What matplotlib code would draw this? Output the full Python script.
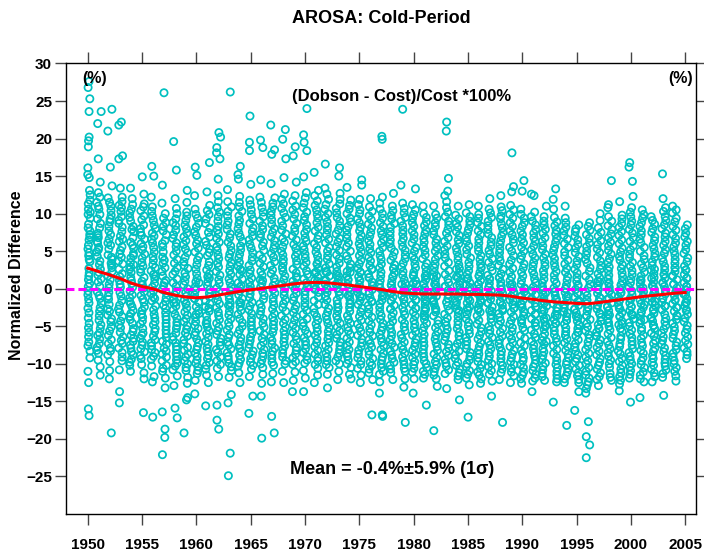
import numpy as np
import matplotlib
matplotlib.use("Agg")
import matplotlib.pyplot as plt

plt.rcParams['font.family'] = ['Liberation Sans', 'DejaVu Sans']
plt.rcParams['font.weight'] = 'bold'

# cold-period seasons, labelled by the January year
years = list(range(1950, 2006))

# normalized differences (%) read per season, one sub-list per winter
# (outer part of each stripe, with its outliers)
s1950s = [
    [27.6, 26.8, 25.3, 23.6, 20.2, 19.7, 18.9, 16.1, 15.2, 14.8, 12.5, 11.3, 10.2, 9.4, 8.1, 7.2, 6.5, 5.3, 4.4, 3.6, 2.1, 1.2, 0.3, -0.8, -1.9, -3.2, -4.6, -5.8, -7.1, -8.3, -9.2, -11.0, -12.5, -16.0, -16.9],
    [23.6, 22.0, 17.3, 14.2, 12.8, 11.5, 10.6, 9.3, 8.7, 7.4, 6.8, 5.5, 4.9, 3.7, 2.6, 1.8, 0.9, -0.4, -1.3, -2.5, -3.6, -4.8, -5.9, -6.7, -7.8, -8.6, -9.5, -10.4, -11.5, 6.1],
    [23.9, 21.0, 16.2, 13.7, 12.1, 11.0, 9.8, 8.9, 7.7, 6.6, 5.8, 4.5, 3.9, 2.8, 1.7, 0.6, -0.5, -1.4, -2.7, -3.5, -4.4, -5.6, -6.8, -7.9, -8.8, -9.7, -10.9, -12.0, -19.2, 3.1],
    [22.2, 21.8, 17.7, 17.3, 13.4, 12.2, 11.1, 10.3, 9.1, 8.2, 7.0, 6.3, 5.1, 4.2, 3.3, 2.0, 1.1, 0.2, -1.0, -2.2, -3.1, -4.3, -5.2, -6.4, -7.3, -8.5, -9.6, -10.8, -13.7, -15.2],
    [13.4, 12.0, 11.2, 10.1, 9.5, 8.3, 7.6, 6.2, 5.4, 4.7, 3.5, 2.6, 1.5, 0.7, -0.3, -1.2, -2.4, -3.3, -4.1, -5.3, -6.2, -7.0, -7.9, -8.8, -9.4, -10.2, -11.0, 2.9, -1.7, 4.1],
    [14.9, 12.6, 11.3, 10.4, 9.2, 8.0, 7.1, 6.0, 5.2, 4.1, 3.0, 2.2, 1.0, 0.1, -0.9, -1.8, -2.9, -3.8, -4.7, -5.9, -6.6, -7.5, -8.4, -9.3, -10.1, -11.2, -12.0, -16.5, 0.6, -3.4],
    [16.3, 15.0, 12.2, 10.9, 9.7, 8.5, 7.4, 6.6, 5.5, 4.3, 3.2, 2.4, 1.3, 0.2, -0.7, -1.6, -2.8, -3.9, -4.8, -5.7, -6.8, -7.6, -8.5, -9.4, -10.3, -11.7, -12.4, -17.1, -1.1, 1.9],
    [26.1, 13.8, 11.4, 10.0, 8.8, 7.7, 6.4, 5.6, 4.2, 3.4, 2.3, 1.1, 0.4, -0.6, -1.7, -2.6, -3.7, -4.6, -5.5, -6.5, -7.4, -8.3, -9.1, -10.2, -11.0, -11.9, -13.2, -16.4, -18.7, -19.8, -22.1],
    [19.6, 15.8, 12.0, 10.7, 9.3, 8.4, 7.2, 6.1, 5.0, 3.9, 2.8, 1.9, 0.8, -0.3, -1.4, -2.3, -3.4, -4.5, -5.3, -6.4, -7.2, -8.1, -9.0, -9.9, -10.8, -11.6, -12.9, -15.9, -17.2, -1.9],
    [13.1, 11.5, 10.2, 9.1, 8.0, 6.9, 5.9, 4.8, 3.6, 2.7, 1.6, 0.5, -0.5, -1.5, -2.6, -3.5, -4.4, -5.4, -6.3, -7.3, -8.2, -9.1, -10.0, -10.9, -11.8, -12.6, -14.5, -14.8, -19.2, -2.0],
]
s1960s = [
    [16.2, 15.1, 12.4, 10.6, 9.4, 8.2, 7.1, 6.0, 4.9, 3.8, 2.6, 1.4, 0.3, -0.8, -1.8, -2.9, -3.8, -4.9, -5.8, -6.7, -7.7, -8.6, -9.5, -10.4, -11.3, -12.2, -14.0, -1.3, -3.3, 0.9],
    [16.8, 12.9, 11.1, 9.9, 8.7, 7.5, 6.3, 5.3, 4.4, 3.1, 2.0, 0.9, -0.1, -1.1, -2.0, -3.0, -4.2, -5.1, -6.0, -7.0, -7.9, -8.9, -9.8, -10.7, -11.5, -12.5, -15.6, -2.4, 1.6, -4.7],
    [20.8, 20.2, 18.8, 18.1, 17.3, 14.6, 12.4, 10.8, 9.6, 8.3, 7.3, 6.2, 5.1, 4.0, 2.9, 1.8, 0.7, -0.4, -1.5, -2.5, -3.6, -4.6, -5.6, -6.6, -7.6, -8.5, -9.6, -10.6, -11.7, -15.5, -17.5, -18.7],
    [26.2, 13.2, 11.6, 10.3, 9.0, 7.9, 6.8, 5.7, 4.6, 3.5, 2.4, 1.3, 0.2, -0.9, -1.9, -3.0, -4.0, -5.0, -6.1, -7.1, -8.0, -9.0, -9.9, -10.9, -11.8, -14.1, -15.2, -21.9, -24.9, -2.2],
    [16.3, 15.2, 14.6, 12.3, 10.9, 9.7, 8.6, 7.4, 6.3, 5.2, 4.1, 3.0, 1.9, 0.8, -0.3, -1.3, -2.4, -3.4, -4.5, -5.5, -6.5, -7.5, -8.4, -9.4, -10.3, -11.2, -12.5, 0.4, -1.8, 2.6],
    [23.0, 19.5, 18.4, 13.9, 11.8, 10.5, 9.3, 8.1, 7.0, 5.9, 4.8, 3.7, 2.5, 1.4, 0.3, -0.7, -1.8, -2.8, -3.9, -4.9, -5.9, -6.9, -7.9, -8.8, -9.8, -10.7, -11.7, -14.3, -16.6, -0.2],
    [19.8, 18.8, 14.5, 12.2, 10.8, 9.6, 8.4, 7.3, 6.2, 5.1, 4.0, 2.9, 1.8, 0.7, -0.4, -1.4, -2.5, -3.5, -4.6, -5.6, -6.6, -7.6, -8.6, -9.5, -10.5, -11.4, -12.6, -14.3, -19.9, 1.1],
    [21.8, 18.5, 17.9, 14.0, 12.1, 10.9, 9.8, 8.6, 7.5, 6.4, 5.3, 4.2, 3.1, 2.0, 0.9, -0.1, -1.2, -2.2, -3.3, -4.3, -5.3, -6.4, -7.4, -8.3, -9.3, -10.2, -11.3, -12.4, -17.0, -19.2],
    [21.2, 19.9, 17.3, 14.8, 12.6, 11.3, 10.1, 9.0, 7.8, 6.7, 5.6, 4.5, 3.4, 2.3, 1.2, 0.1, -0.9, -2.0, -3.0, -4.1, -5.1, -6.1, -7.1, -8.1, -9.1, -10.0, -11.0, -12.5, 0.6, 2.8],
    [18.9, 17.7, 14.2, 12.4, 11.0, 9.9, 8.7, 7.6, 6.5, 5.4, 4.3, 3.2, 2.1, 1.0, -0.1, -1.1, -2.2, -3.2, -4.2, -5.3, -6.3, -7.3, -8.2, -9.2, -10.1, -11.1, -12.2, -13.7, 0.5, 1.6],
]
s1970s = [
    [24.0, 20.5, 19.5, 18.4, 14.9, 12.8, 11.4, 10.2, 9.1, 7.9, 6.8, 5.7, 4.6, 3.5, 2.4, 1.3, 0.2, -0.8, -1.9, -2.9, -4.0, -5.0, -6.0, -7.0, -8.0, -9.0, -9.9, -10.9, -11.9, -13.7],
    [15.5, 13.1, 11.7, 10.5, 9.4, 8.2, 7.1, 6.0, 4.9, 3.8, 2.7, 1.6, 0.5, -0.5, -1.6, -2.6, -3.7, -4.7, -5.7, -6.7, -7.7, -8.7, -9.6, -10.6, -11.5, -12.5, 1.1, 2.2, -0.1, 3.3],
    [16.6, 13.4, 11.9, 10.6, 9.5, 8.3, 7.2, 6.1, 5.0, 3.9, 2.8, 1.7, 0.6, -0.5, -1.5, -2.6, -3.6, -4.6, -5.7, -6.7, -7.6, -8.6, -9.6, -10.5, -11.4, -13.2, 0.1, 1.2, -1.0, 2.3],
    [16.1, 15.0, 12.7, 11.3, 10.1, 9.0, 7.8, 6.7, 5.6, 4.5, 3.4, 2.3, 1.2, 0.1, -0.9, -2.0, -3.0, -4.1, -5.1, -6.1, -7.1, -8.1, -9.1, -10.0, -11.0, -12.1, 0.7, -0.4, 1.8, -2.5],
    [13.5, 11.8, 10.6, 9.4, 8.3, 7.2, 6.1, 5.0, 3.9, 2.8, 1.7, 0.6, -0.4, -1.5, -2.5, -3.6, -4.6, -5.6, -6.6, -7.6, -8.6, -9.5, -10.5, -11.4, -12.0, 0.1, 1.2, -1.0, 2.3, -2.0],
    [14.5, 13.8, 11.9, 10.5, 9.3, 8.2, 7.1, 6.0, 4.9, 3.8, 2.7, 1.6, 0.5, -0.5, -1.6, -2.6, -3.7, -4.7, -5.7, -6.7, -7.7, -8.7, -9.6, -10.6, -11.5, -12.5, 0.0, 1.1, -1.1, 2.2],
    [12.0, 10.9, 9.7, 8.6, 7.5, 6.4, 5.3, 4.2, 3.1, 2.0, 0.9, -0.1, -1.2, -2.2, -3.3, -4.3, -5.3, -6.3, -7.3, -8.3, -9.3, -10.2, -11.2, -12.1, -16.8, 0.4, -0.6, 1.5, -1.7, 2.6],
    [20.3, 19.9, 12.2, 10.6, 9.4, 8.3, 7.2, 6.1, 5.0, 3.9, 2.8, 1.7, 0.6, -0.4, -1.5, -2.5, -3.6, -4.6, -5.6, -6.6, -7.6, -8.6, -9.5, -10.5, -11.4, -12.4, -13.9, -16.8, -17.0, -0.9],
    [12.7, 11.0, 9.8, 8.7, 7.6, 6.5, 5.4, 4.3, 3.2, 2.1, 1.0, -0.1, -1.1, -2.2, -3.2, -4.3, -5.3, -6.3, -7.3, -8.3, -9.3, -10.2, -11.2, -12.1, -0.6, 0.5, -1.6, 1.6, -2.7, 2.7],
    [23.9, 13.8, 11.4, 10.1, 9.0, 7.8, 6.7, 5.6, 4.5, 3.4, 2.3, 1.2, 0.1, -0.9, -2.0, -3.0, -4.1, -5.1, -6.1, -7.1, -8.1, -9.1, -10.1, -11.0, -12.0, -13.1, -17.8, -0.5, 0.6, -1.4],
]
s1980s = [
    [13.3, 11.2, 9.9, 8.8, 7.7, 6.6, 5.5, 4.4, 3.3, 2.2, 1.1, 0.0, -1.0, -2.1, -3.1, -4.2, -5.2, -6.2, -7.2, -8.2, -9.2, -10.1, -11.1, -12.0, -13.9, -0.4, -1.5, 0.7, -2.6, 1.8],
    [11.0, 10.0, 8.9, 7.8, 6.7, 5.6, 4.5, 3.4, 2.3, 1.2, 0.1, -0.9, -2.0, -3.0, -4.1, -5.1, -6.1, -7.1, -8.1, -9.1, -10.0, -11.0, -11.9, -15.5, -0.5, -1.6, 0.6, -2.7, 1.7, -3.7],
    [11.0, 9.9, 8.8, 7.7, 6.6, 5.5, 4.4, 3.3, 2.2, 1.1, 0.0, -1.0, -2.1, -3.1, -4.2, -5.2, -6.2, -7.2, -8.2, -9.2, -10.1, -11.1, -12.0, -13.0, -18.9, -0.6, 0.5, -1.7, 1.6, -2.8],
    [22.2, 21.0, 14.7, 13.0, 12.4, 10.8, 9.6, 8.5, 7.4, 6.3, 5.2, 4.1, 3.0, 1.9, 0.8, -0.2, -1.3, -2.3, -3.4, -4.4, -5.4, -6.4, -7.4, -8.4, -9.4, -10.3, -11.3, -13.3, -0.8, 0.3],
    [11.0, 9.8, 8.7, 7.6, 6.5, 5.4, 4.3, 3.2, 2.1, 1.0, -0.1, -1.1, -2.2, -3.2, -4.3, -5.3, -6.3, -7.3, -8.3, -9.3, -10.2, -11.2, -12.1, -14.8, -0.7, 0.4, -1.8, 1.5, -2.9, 2.6],
    [11.2, 10.1, 9.0, 7.9, 6.8, 5.7, 4.6, 3.5, 2.4, 1.3, 0.2, -0.8, -1.9, -2.9, -4.0, -5.0, -6.0, -7.0, -8.0, -9.0, -10.0, -10.9, -11.9, -12.8, -17.1, -0.7, 0.5, -1.6, 1.4, -2.6],
    [11.0, 9.9, 8.8, 7.7, 6.6, 5.5, 4.4, 3.3, 2.2, 1.1, 0.0, -1.0, -2.1, -3.1, -4.2, -5.2, -6.2, -7.2, -8.2, -9.2, -10.1, -11.1, -12.0, -12.6, -0.6, 0.6, -1.7, 1.7, -2.8, 2.8],
    [12.0, 10.6, 9.5, 8.4, 7.3, 6.2, 5.1, 4.0, 2.9, 1.8, 0.7, -0.3, -1.4, -2.4, -3.5, -4.5, -5.5, -6.5, -7.5, -8.5, -9.5, -10.4, -11.4, -12.3, -14.3, -0.9, 0.2, -1.9, 1.3, -3.0],
    [12.4, 10.9, 9.7, 8.6, 7.5, 6.4, 5.3, 4.2, 3.1, 2.0, 0.9, -0.1, -1.2, -2.2, -3.3, -4.3, -5.3, -6.3, -7.3, -8.3, -9.3, -10.2, -11.2, -12.1, -17.8, -0.8, 0.4, -1.8, 1.5, -2.9],
    [18.1, 13.6, 12.9, 11.1, 9.9, 8.8, 7.7, 6.6, 5.5, 4.4, 3.3, 2.2, 1.1, 0.0, -1.0, -2.1, -3.1, -4.2, -5.2, -6.2, -7.2, -8.2, -9.2, -10.1, -11.1, -12.5, -0.5, -1.5, 0.6, -2.6],
]
s1990s = [
    [14.4, 13.0, 10.6, 9.4, 8.3, 7.2, 6.1, 5.0, 3.9, 2.8, 1.7, 0.6, -0.4, -1.5, -2.5, -3.6, -4.6, -5.6, -6.6, -7.6, -8.6, -9.6, -10.5, -11.5, -12.6, -1.0, -2.0, 0.1, -3.1, -4.1],
    [12.6, 12.4, 10.2, 9.0, 7.9, 6.8, 5.7, 4.6, 3.5, 2.4, 1.3, 0.2, -0.8, -1.9, -2.9, -4.0, -5.0, -6.0, -7.0, -8.0, -9.0, -10.0, -10.9, -11.9, -13.7, -1.4, -2.4, -0.3, -3.4, -4.5],
    [11.0, 9.6, 8.5, 7.4, 6.3, 5.2, 4.1, 3.0, 1.9, 0.8, -0.2, -1.3, -2.3, -3.4, -4.4, -5.4, -6.4, -7.4, -8.4, -9.4, -10.3, -11.3, -12.2, -1.7, -2.8, -0.6, -3.9, 0.3, -4.9, -6.9],
    [13.3, 11.9, 10.6, 8.9, 7.8, 6.7, 5.6, 4.5, 3.4, 2.3, 1.2, 0.1, -0.9, -2.0, -3.0, -4.1, -5.1, -6.1, -7.1, -8.1, -9.1, -10.1, -11.0, -12.0, -15.1, -1.5, -2.5, -3.6, -0.4, -4.6],
    [11.0, 9.4, 8.2, 7.1, 6.0, 4.9, 3.8, 2.7, 1.6, 0.5, -0.5, -1.6, -2.6, -3.7, -4.7, -5.7, -6.7, -7.7, -8.7, -9.7, -10.6, -11.6, -12.5, -18.2, -1.1, -2.1, -3.2, -4.2, 0.0, -6.2],
    [8.5, 7.6, 6.5, 5.4, 4.3, 3.2, 2.1, 1.0, -0.1, -1.1, -2.2, -3.2, -4.3, -5.3, -6.3, -7.3, -8.3, -9.3, -10.2, -11.2, -12.1, -13.7, -16.2, -1.6, -2.7, -3.7, -0.6, -4.8, -5.8, 0.5],
    [8.8, 7.8, 6.7, 5.6, 4.5, 3.4, 2.3, 1.2, 0.1, -0.9, -2.0, -3.0, -4.1, -5.1, -6.1, -7.1, -8.1, -9.1, -10.0, -11.0, -11.9, -12.8, -13.9, -17.7, -19.7, -20.8, -22.5, -1.5, -2.5, -3.6],
    [10.0, 8.1, 7.0, 5.9, 4.8, 3.7, 2.6, 1.5, 0.4, -0.6, -1.7, -2.7, -3.8, -4.8, -5.8, -6.8, -7.8, -8.8, -9.8, -10.7, -11.7, -12.9, -1.2, -2.2, -3.3, -0.1, -4.3, -5.3, 1.0, -6.3],
    [14.4, 11.2, 10.8, 9.0, 7.9, 6.8, 5.7, 4.6, 3.5, 2.4, 1.3, 0.2, -0.8, -1.9, -2.9, -4.0, -5.0, -6.0, -7.0, -8.0, -9.0, -10.0, -11.3, -12.2, -1.3, -2.4, -0.3, -3.4, -4.5, 0.8],
    [11.6, 9.8, 8.7, 7.6, 6.5, 5.4, 4.3, 3.2, 2.1, 1.0, -0.1, -1.1, -2.2, -3.2, -4.3, -5.3, -6.3, -7.3, -8.3, -9.3, -10.2, -11.2, -12.7, -13.6, -1.6, -2.7, -0.6, -3.7, -4.8, 0.5],
]
s2000s = [
    [16.8, 16.2, 14.3, 12.3, 10.2, 9.0, 7.9, 6.8, 5.7, 4.6, 3.5, 2.4, 1.3, 0.2, -0.8, -1.9, -2.9, -4.0, -5.0, -6.0, -7.0, -8.0, -9.0, -10.0, -10.9, -11.9, -15.1, -1.4, -2.4, -3.5],
    [10.5, 9.4, 8.3, 7.2, 6.1, 5.0, 3.9, 2.8, 1.7, 0.6, -0.4, -1.5, -2.5, -3.6, -4.6, -5.6, -6.6, -7.6, -8.6, -9.6, -10.5, -11.5, -12.4, -14.5, -1.0, -2.0, 0.1, -3.1, 1.2, -4.1],
    [9.6, 8.6, 7.5, 6.4, 5.3, 4.2, 3.1, 2.0, 0.9, -0.1, -1.2, -2.2, -3.3, -4.3, -5.3, -6.3, -7.3, -8.3, -9.3, -10.2, -11.2, -12.4, -0.6, -1.7, 0.4, -2.8, 1.5, -3.8, -4.9, 2.6],
    [15.3, 12.0, 10.3, 9.1, 8.0, 6.9, 5.8, 4.7, 3.6, 2.5, 1.4, 0.3, -0.7, -1.8, -2.8, -3.9, -4.9, -5.9, -6.9, -7.9, -8.9, -9.9, -10.8, -11.8, -14.2, -0.2, -1.3, 0.8, -2.3, 1.9],
    [11.0, 10.1, 8.9, 7.8, 6.7, 5.6, 4.5, 3.4, 2.3, 1.2, 0.1, -0.9, -2.0, -3.0, -4.1, -5.1, -6.1, -7.1, -8.1, -9.1, -10.0, -11.0, -12.3, -0.4, -1.5, 0.6, -2.5, 1.7, -3.6, 2.8],
    [8.5, 7.4, 6.3, 5.2, 4.1, 3.0, 1.9, 0.8, -0.2, -1.3, -2.3, -3.4, -4.4, -5.4, -6.4, -7.4, -8.4, -9.3, 0.3, -0.8, 1.4, -1.9, 2.5, -2.9],
]

# dense core of each stripe
c1950s = [
    [13.1, 11.8, 10.6, 9.9, 8.6, 7.7, 6.9, 5.8, 4.8, 3.9, 2.7, 1.7, 0.7, -0.3, -1.4, -2.6, -3.9, -5.2, -6.4, -7.6],
    [12.2, 11.0, 9.9, 8.1, 7.1, 6.3, 5.2, 4.3, 3.2, 2.2, 1.3, 0.3, -0.9, -1.9, -3.0, -4.2, -5.3, -6.2, -7.3, -8.2],
    [11.5, 10.4, 9.3, 8.3, 7.2, 6.1, 5.3, 4.2, 3.4, 2.3, 1.2, 0.1, -1.0, -2.1, -3.0, -4.0, -5.1, -6.2, -7.3, -8.3],
    [11.6, 10.8, 9.6, 8.7, 7.6, 6.6, 5.6, 4.6, 3.7, 2.6, 1.6, 0.6, -0.5, -1.6, -2.7, -3.7, -4.8, -5.8, -6.9, -7.9, -9.1],
    [10.6, 9.0, 7.9, 6.8, 5.8, 4.4, 3.2, 2.2, 1.1, 0.2, -0.8, -2.0, -2.9, -3.7, -4.6, -5.7, -6.6, -7.5, -8.4, -9.8],
    [10.9, 9.7, 8.5, 7.5, 6.6, 5.6, 4.6, 3.5, 2.6, 1.5, 0.5, -0.4, -1.4, -2.4, -3.4, -4.3, -5.3, -6.2, -7.1, -8.0, -8.9],
    [10.3, 9.1, 8.0, 7.0, 6.1, 4.9, 3.8, 2.8, 1.7, 0.7, -0.3, -1.3, -2.3, -3.4, -4.4, -5.3, -6.3, -7.2, -8.1, -9.0],
    [9.4, 8.3, 7.2, 6.0, 4.9, 3.8, 2.8, 1.7, 0.8, -0.1, -1.2, -2.2, -3.2, -4.1, -5.0, -6.0, -7.0, -7.9, -8.7, -9.6, -10.6],
    [10.0, 8.8, 7.8, 6.7, 5.6, 4.5, 3.4, 2.3, 1.3, 0.3, -0.8, -1.8, -2.8, -3.9, -4.9, -5.9, -6.8, -7.7, -8.6, -9.5, -10.3],
    [9.7, 8.5, 7.4, 6.4, 5.3, 4.2, 3.1, 2.1, 1.0, 0.0, -1.0, -2.0, -3.1, -4.0, -4.9, -5.9, -6.8, -7.8, -8.7, -9.6, -10.5],
]
c1960s = [
    [9.9, 8.7, 7.6, 6.5, 5.4, 4.3, 3.2, 2.0, 0.8, -0.2, -1.3, -2.4, -3.4, -4.4, -5.3, -6.2, -7.2, -8.1, -9.0, -9.9, -10.9],
    [10.4, 9.3, 8.1, 6.9, 5.8, 4.8, 3.6, 2.5, 1.4, 0.4, -0.6, -1.6, -2.6, -3.6, -4.6, -5.6, -6.5, -7.4, -8.4, -9.3, -10.2],
    [11.6, 10.2, 9.0, 7.8, 6.7, 5.6, 4.5, 3.4, 2.3, 1.2, 0.1, -0.9, -2.0, -3.1, -4.1, -5.1, -6.1, -7.1, -8.1, -9.1, -10.1],
    [10.9, 9.7, 8.5, 7.3, 6.2, 5.1, 4.1, 3.0, 1.9, 0.8, -0.3, -1.4, -2.4, -3.5, -4.5, -5.5, -6.5, -7.5, -8.5, -9.4, -10.4],
    [11.5, 10.3, 9.1, 8.0, 6.9, 5.7, 4.6, 3.5, 2.4, 1.3, 0.2, -0.8, -1.9, -2.9, -4.0, -5.0, -6.0, -7.0, -7.9, -8.9, -9.9],
    [11.2, 9.9, 8.7, 7.6, 6.5, 5.4, 4.2, 3.1, 2.0, 0.9, -0.2, -1.2, -2.3, -3.3, -4.4, -5.4, -6.4, -7.4, -8.3, -9.3, -10.2],
    [11.5, 10.2, 9.0, 7.9, 6.8, 5.7, 4.5, 3.4, 2.3, 1.2, 0.2, -0.9, -2.0, -3.0, -4.0, -5.1, -6.1, -7.1, -8.1, -9.0, -10.0],
    [11.4, 10.3, 9.2, 8.0, 6.9, 5.8, 4.7, 3.6, 2.5, 1.4, 0.4, -0.6, -1.7, -2.7, -3.8, -4.8, -5.8, -6.9, -7.9, -8.8, -9.8],
    [11.9, 10.7, 9.5, 8.4, 7.3, 6.2, 5.0, 3.9, 2.8, 1.7, 0.6, -0.4, -1.5, -2.5, -3.6, -4.6, -5.6, -6.6, -7.6, -8.6, -9.6],
    [11.7, 10.5, 9.3, 8.1, 7.0, 5.9, 4.8, 3.7, 2.6, 1.5, 0.4, -0.6, -1.6, -2.7, -3.7, -4.8, -5.8, -6.8, -7.8, -8.7, -9.7],
]
c1970s = [
    [12.1, 10.8, 9.6, 8.5, 7.4, 6.3, 5.2, 4.1, 3.0, 1.9, 0.8, -0.3, -1.3, -2.4, -3.4, -4.5, -5.5, -6.5, -7.5, -8.5, -9.5],
    [12.4, 11.1, 9.9, 8.8, 7.7, 6.6, 5.5, 4.4, 3.3, 2.1, 1.0, 0.0, -1.1, -2.1, -3.2, -4.2, -5.2, -6.2, -7.2, -8.2, -9.2, -10.1],
    [12.6, 11.2, 10.0, 8.9, 7.8, 6.6, 5.5, 4.4, 3.3, 2.2, 1.1, 0.0, -1.0, -2.1, -3.1, -4.1, -5.2, -6.2, -7.2, -8.1, -9.1, -10.1],
    [11.9, 10.7, 9.5, 8.4, 7.3, 6.2, 5.1, 4.0, 2.9, 1.7, 0.6, -0.4, -1.5, -2.5, -3.6, -4.6, -5.6, -6.6, -7.6, -8.6, -9.6],
    [11.1, 10.0, 8.9, 7.8, 6.7, 5.6, 4.4, 3.3, 2.2, 1.2, 0.1, -0.9, -2.0, -3.0, -4.1, -5.1, -6.1, -7.1, -8.1, -9.0, -10.0],
    [11.2, 10.0, 8.8, 7.7, 6.6, 5.5, 4.4, 3.3, 2.2, 1.1, 0.0, -1.0, -2.1, -3.1, -4.2, -5.2, -6.2, -7.2, -8.2, -9.2, -10.1],
    [10.3, 9.2, 8.1, 7.0, 5.9, 4.8, 3.7, 2.6, 1.5, 0.4, -0.6, -1.7, -2.7, -3.8, -4.8, -5.8, -6.8, -7.8, -8.8, -9.8, -10.7],
    [11.4, 10.0, 8.8, 7.7, 6.6, 5.5, 4.4, 3.3, 2.2, 1.1, 0.1, -1.0, -2.0, -3.1, -4.1, -5.1, -6.1, -7.1, -8.1, -9.1, -10.0, -11.0],
    [10.4, 9.3, 8.2, 7.1, 6.0, 4.9, 3.8, 2.7, 1.6, 0.5, -0.5, -1.6, -2.7, -3.7, -4.8, -5.8, -6.8, -7.8, -8.8, -9.8, -10.7],
    [10.7, 9.5, 8.4, 7.3, 6.2, 5.1, 4.0, 2.9, 1.8, 0.7, -0.4, -1.4, -2.5, -3.5, -4.6, -5.6, -6.6, -7.6, -8.6, -9.6, -10.6],
]
c1980s = [
    [10.5, 9.4, 8.3, 7.2, 6.1, 5.0, 3.9, 2.8, 1.7, 0.6, -0.5, -1.5, -2.6, -3.6, -4.7, -5.7, -6.7, -7.7, -8.7, -9.7, -10.6],
    [9.5, 8.4, 7.3, 6.2, 5.1, 4.0, 2.9, 1.8, 0.7, -0.4, -1.4, -2.5, -3.5, -4.6, -5.6, -6.6, -7.6, -8.6, -9.6, -10.5, -11.4],
    [9.4, 8.3, 7.2, 6.1, 5.0, 3.9, 2.8, 1.7, 0.6, -0.5, -1.5, -2.6, -3.6, -4.7, -5.7, -6.7, -7.7, -8.7, -9.7, -10.6, -11.5],
    [11.6, 10.2, 9.0, 7.9, 6.8, 5.7, 4.6, 3.5, 2.4, 1.3, 0.3, -0.8, -1.8, -2.9, -3.9, -4.9, -5.9, -6.9, -7.9, -8.9, -9.9, -10.8],
    [9.3, 8.2, 7.1, 6.0, 4.9, 3.8, 2.7, 1.6, 0.5, -0.6, -1.6, -2.7, -3.7, -4.8, -5.8, -6.8, -7.8, -8.8, -9.8, -10.7, -11.6],
    [9.6, 8.5, 7.4, 6.3, 5.2, 4.1, 3.0, 1.9, 0.8, -0.3, -1.3, -2.4, -3.4, -4.5, -5.5, -6.5, -7.5, -8.5, -9.5, -10.4, -11.4],
    [9.4, 8.3, 7.2, 6.1, 5.0, 3.9, 2.8, 1.7, 0.6, -0.5, -1.5, -2.6, -3.6, -4.7, -5.7, -6.7, -7.7, -8.7, -9.7, -10.6, -11.5],
    [10.1, 9.0, 7.9, 6.8, 5.7, 4.6, 3.5, 2.4, 1.3, 0.2, -0.8, -1.9, -2.9, -4.0, -5.0, -6.0, -7.0, -8.0, -9.0, -10.0, -10.9],
    [10.4, 9.3, 8.1, 7.0, 5.9, 4.8, 3.7, 2.6, 1.5, 0.4, -0.6, -1.7, -2.7, -3.8, -4.8, -5.8, -6.8, -7.8, -8.8, -9.8, -10.7],
    [10.5, 9.4, 8.3, 7.2, 6.1, 5.0, 3.8, 2.7, 1.6, 0.5, -0.5, -1.6, -2.6, -3.7, -4.7, -5.7, -6.7, -7.7, -8.7, -9.7, -10.6, -11.6],
]
c1990s = [
    [9.9, 8.8, 7.7, 6.6, 5.5, 4.4, 3.3, 2.2, 1.1, 0.0, -1.0, -2.1, -3.1, -4.2, -5.2, -6.2, -7.2, -8.2, -9.2, -10.1, -11.1, -12.0],
    [9.6, 8.5, 7.4, 6.3, 5.2, 4.1, 3.0, 1.9, 0.8, -0.3, -1.3, -2.4, -3.4, -4.5, -5.5, -6.5, -7.5, -8.5, -9.5, -10.4, -11.4, -12.3],
    [9.0, 7.9, 6.8, 5.7, 4.6, 3.5, 2.4, 1.3, 0.2, -0.8, -1.9, -2.9, -4.0, -5.0, -6.0, -7.0, -8.0, -8.9, -9.9, -10.8, -11.7],
    [9.5, 8.4, 7.3, 6.2, 5.1, 4.0, 2.9, 1.8, 0.7, -0.4, -1.4, -2.5, -3.5, -4.6, -5.6, -6.6, -7.6, -8.6, -9.6, -10.5, -11.5, -12.4],
    [8.8, 7.7, 6.6, 5.5, 4.4, 3.3, 2.2, 1.1, 0.0, -1.0, -2.1, -3.1, -4.2, -5.2, -6.2, -7.2, -8.2, -9.2, -10.1, -11.1, -12.0],
    [8.0, 7.0, 5.9, 4.8, 3.7, 2.6, 1.5, 0.4, -0.6, -1.7, -2.7, -3.8, -4.8, -5.8, -6.8, -7.8, -8.8, -9.7, -10.7, -11.6, -12.5],
    [8.3, 7.2, 6.1, 5.0, 3.9, 2.8, 1.7, 0.6, -0.4, -1.5, -2.5, -3.6, -4.6, -5.6, -6.6, -7.6, -8.6, -9.6, -10.5, -11.5, -12.4, -13.3],
    [9.1, 7.5, 6.4, 5.3, 4.2, 3.1, 2.0, 0.9, -0.1, -1.2, -2.2, -3.3, -4.3, -5.3, -6.3, -7.3, -8.3, -9.3, -10.2, -11.2, -12.1],
    [9.6, 8.4, 7.3, 6.2, 5.1, 4.0, 2.9, 1.8, 0.7, -0.3, -1.4, -2.4, -3.5, -4.5, -5.5, -6.5, -7.5, -8.5, -9.5, -10.5, -11.8],
    [9.3, 8.2, 7.1, 6.0, 4.9, 3.8, 2.7, 1.6, 0.5, -0.5, -1.6, -2.6, -3.7, -4.7, -5.7, -6.7, -7.7, -8.7, -9.7, -10.7, -11.7, -12.2],
]
c2000s = [
    [10.8, 9.6, 8.5, 7.4, 6.3, 5.2, 4.1, 3.0, 1.9, 0.8, -0.3, -1.3, -2.4, -3.4, -4.5, -5.5, -6.5, -7.5, -8.5, -9.5, -10.4, -11.4],
    [9.9, 8.8, 7.7, 6.6, 5.5, 4.4, 3.3, 2.2, 1.1, 0.0, -1.0, -2.1, -3.1, -4.2, -5.2, -6.2, -7.2, -8.2, -9.2, -10.1, -11.1, -12.0],
    [9.1, 8.0, 6.9, 5.8, 4.7, 3.6, 2.5, 1.4, 0.3, -0.7, -1.8, -2.8, -3.9, -4.9, -5.9, -6.9, -7.9, -8.9, -9.8, -10.7, -11.7],
    [10.8, 9.6, 8.5, 7.4, 6.3, 5.2, 4.1, 3.0, 1.9, 0.8, -0.2, -1.3, -2.3, -3.4, -4.4, -5.4, -6.4, -7.4, -8.4, -9.4, -10.3, -11.3],
    [10.5, 9.4, 8.3, 7.2, 6.1, 5.0, 3.9, 2.8, 1.7, 0.6, -0.4, -1.5, -2.5, -3.6, -4.6, -5.6, -6.6, -7.6, -8.6, -9.6, -10.5, -11.6],
    [8.0, 6.9, 5.8, 4.7, 3.6, 2.5, 1.4, 0.3, -0.7, -1.8, -2.8, -3.9, -4.9, -5.9, -6.9, -7.9, -8.8],
]

# smoothed curve (red), one value per year
smooth = [2.75, 2.3, 1.85, 1.35, 0.75, 0.3, 0.0, -0.5, -0.85, -1.1,
          -1.2, -1.1, -0.85, -0.6, -0.35, -0.15, 0.05, 0.25, 0.45, 0.65,
          0.8, 0.85, 0.8, 0.65, 0.5, 0.3, 0.1, -0.1, -0.35, -0.55,
          -0.65, -0.7, -0.7, -0.7, -0.7, -0.75, -0.75, -0.8, -0.85, -1.0,
          -1.25, -1.4, -1.6, -1.75, -1.85, -1.95, -2.0, -1.85, -1.65, -1.45,
          -1.25, -1.05, -0.9, -0.75, -0.6, -0.5]

seasons = s1950s + s1960s + s1970s + s1980s + s1990s + s2000s
cores = c1950s + c1960s + c1970s + c1980s + c1990s + c2000s

# place each season's values across its winter months
xs, ys = [], []
for yr, outer, core in zip(years, seasons, cores):
    vals = np.array(outer + core)
    start = max(yr - 0.17, 1950.0)
    frac = (np.sin(vals * 12.9898 + yr * 78.233) * 43758.5453) % 1.0
    xs.extend(start + (yr + 0.25 - start) * frac)
    ys.extend(vals)

fig = plt.figure(figsize=(7.04, 5.53), dpi=100)
ax = fig.add_axes([0.09375, 0.0705, 0.8949, 0.8147])

ax.scatter(xs, ys, s=27, facecolors='none', edgecolors='#00C0C0', linewidths=1.25, zorder=2)
ax.axhline(0, color='#FF00FF', lw=2.2, dashes=(2.6, 1.3), zorder=3)
ax.plot(years, smooth, color='red', lw=2.2, zorder=4)

ax.set_xlim(1948, 2006)
ax.set_ylim(-30, 30)
ax.set_xticks(range(1950, 2006, 5))
ax.set_yticks(range(-25, 31, 5))
ax.tick_params(axis='both', direction='out', length=8, width=1, color='#444444', labelsize=11)
ax.tick_params(axis='x', top=True, labeltop=False, pad=9)
ax.tick_params(axis='y', right=True, labelright=False, pad=2)
for sp in ax.spines.values():
    sp.set_linewidth(1.0)

ax.set_ylabel('Normalized Difference', fontsize=11.5, fontweight='bold')
ax.yaxis.set_label_coords(-0.067, 0.53)

fig.text(0.541, 0.967, 'AROSA: Cold-Period', ha='center', va='center', fontsize=13, fontweight='bold')
ax.text(0.046, 0.967, '(%)', transform=ax.transAxes, ha='center', va='center', fontsize=11.5)
ax.text(0.975, 0.967, '(%)', transform=ax.transAxes, ha='center', va='center', fontsize=11.5)
ax.text(0.533, 0.927, '(Dobson - Cost)/Cost *100%', transform=ax.transAxes, ha='center', va='center', fontsize=12)
ax.text(0.517, 0.098, 'Mean = -0.4%\u00b15.9% (1\u03c3)', transform=ax.transAxes, ha='center', va='center', fontsize=13)

fig.savefig('out.png', dpi=100)
